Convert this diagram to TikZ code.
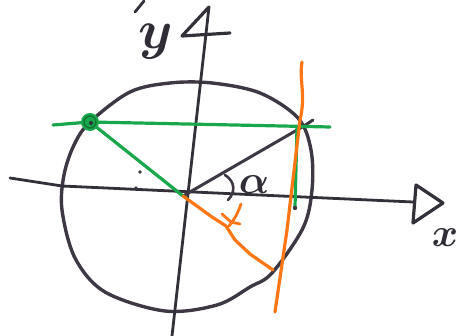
\documentclass[tikz,border=0pt]{standalone}
\usepackage{xcolor}
\usepackage{tikz}
\usetikzlibrary{calc}
\definecolor{ink}{HTML}{3d3844}
\definecolor{leaf}{HTML}{18a84b}
\definecolor{flame}{HTML}{ff7614}

\begin{document}
\begin{tikzpicture}[x=1pt,y=-1pt,line cap=round,line join=round,
  pen/.style={draw=ink,line width=3.4pt},
  axis/.style={draw=ink!85!black,line width=2.8pt},
  grn/.style={draw=leaf,line width=3.2pt},
  org/.style={draw=flame,line width=3.2pt},
  lbl/.style={text=ink!80!black,inner sep=0pt}]
  \useasboundingbox (0,0) rectangle (461,336);

  % points of the sketch
  \coordinate (O) at (183,196);
  \coordinate (P) at (304,126);
  \coordinate (Q) at (90,122);
  \coordinate (yTip) at (209,7);
  \coordinate (xTip) at (413,202);

  % unit circle, drawn by hand
  \draw[pen] plot[smooth cycle,tension=0.55] coordinates {
    (90,122) (130,92) (170,83) (212,83) (260,93) (298,118) (311,150)
    (312,190) (303,228) (272,273) (250,287) (217,305) (165,311)
    (105,292) (75,258) (62,210) (64,175) (74,145)};

  % axes with open heads
  \draw[axis] (10,178) -- (62,186) -- (xTip);
  \draw[axis,line width=3.2pt] (416,185) -- (443,203) -- (413,223) -- cycle;
  \draw[axis] (yTip) -- (172,336);
  \draw[axis,line width=3.2pt] (230,33) -- (182,36) -- (yTip);
  \draw[axis] (135,12) -- (144,1);
  \node[lbl] (ylab) at (156,42) {\scalebox{5.5}{\boldmath$y$}};
  \node[lbl] (xlab) at (445,238) {\scalebox{4}{\boldmath$x$}};

  % radius and angle
  \draw[pen,line width=3pt] (O) -- (P) -- (313,120);
  \draw[pen,line width=2.6pt] (225,175) .. controls (236,182) and (235,193) .. (228,200);
  \node[lbl] (alpha) at (254,185) {\scalebox{4}{\boldmath$\alpha$}};

  % green projections
  \draw[grn] (53,125) -- (Q) -- (330,127);
  \draw[grn] (Q) -- (O);
  \draw[grn] (297,128) -- (295,207);
  \fill[ink] (295,208) circle (2.2pt);
  \fill[leaf] (Q) circle (9pt);
  \draw[leaf!70!black,line width=1.5pt] (Q) circle (6pt);
  \fill[ink!80!black] (91,123) circle (2pt);

  % stray dots
  \fill[ink] (140,172) circle (1.8pt);
  \fill[ink] (136,188) circle (1.8pt);

  % orange tangent and rotated radius
  \draw[org] (302,62) .. controls (299,80) and (306,95) .. (300,120)
    -- (287,230) -- (275,312);
  \draw[org] (O) -- (212,217) -- (226,226) -- (235,240) -- (250,254) -- (273,270);
  \draw[org,line width=2.8pt] (241,204) .. controls (238,213) and (234,220) .. (229,226);
  \draw[org,line width=2.8pt] (222,214) -- (231,222) -- (240,224);
\end{tikzpicture}
\end{document}
